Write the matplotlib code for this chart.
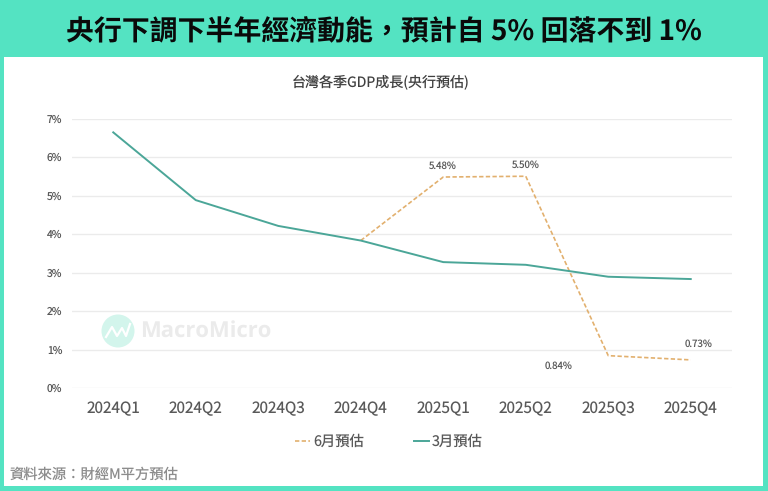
#!/usr/bin/env python3
"""Taiwan quarterly GDP growth, central bank forecasts (March vs June)."""
import matplotlib
matplotlib.use('Agg')
import matplotlib.pyplot as plt
import matplotlib.patches as mpatches
import numpy as np

plt.rcParams['font.family'] = ['Noto Sans CJK TC', 'DejaVu Sans']
plt.rcParams['text.hinting'] = 'no_hinting'
plt.rcParams['text.hinting_factor'] = 1

W, H = 768, 491

BORDER = '#54E3C2'
MAR_COLOR = '#4BA698'
JUN_COLOR = '#E2B06E'
GRID = '#EBEBEB'
TEXT = '#595959'

quarters = ['2024Q1', '2024Q2', '2024Q3', '2024Q4',
            '2025Q1', '2025Q2', '2025Q3', '2025Q4']
march_fc = [6.64, 4.88, 4.21, 3.83, 3.27, 3.20, 2.89, 2.83]
june_fc = [None, None, None, 3.83, 5.48, 5.50, 0.84, 0.73]
yticks = [0, 1, 2, 3, 4, 5, 6, 7]

# label text and nudges in points, as placed in the original
june_labels = {4: ('5.48%', 0, 4.6), 5: ('5.50%', 0, 4.6),
               6: ('0.84%', -36, -11), 7: ('0.73%', 6, 8)}

fig = plt.figure(figsize=(W / 100, H / 100), dpi=100, facecolor=BORDER)

# white panel under the header band
panel = fig.add_axes([4 / W, 1 - 486 / H, 759 / W, 429 / H])
panel.set_facecolor('white')
panel.set_xticks([])
panel.set_yticks([])
for s in panel.spines.values():
    s.set_visible(False)

fig.text(384 / W, 1 - 32 / H, '央行下調下半年經濟動能，預計自 5% 回落不到 1%',
         ha='center', va='center', fontsize=20.1, fontweight='bold', color='#0A0A0A')
fig.text(381 / W, 1 - 82 / H, '台灣各季GDP成長(央行預估)',
         ha='center', va='center', fontsize=10.1, color='#404040')
fig.text(10 / W, 1 - 475 / H, '資料來源：財經M平方預估', ha='left', va='center',
         fontsize=10.3, color='#8C8C8C', style='italic')

# watermark
logo = fig.add_axes([0, 0, 1, 1], zorder=1)
logo.set_xlim(0, W)
logo.set_ylim(H, 0)
logo.axis('off')
logo.add_patch(mpatches.Ellipse((118, 331), 33, 33, color='#D3F5EC', lw=0))
logo.plot([106, 112, 117, 122, 126, 130], [337, 327, 336, 328, 336, 324],
          color='white', lw=1.6)
logo.text(140, 331, 'MacroMicro', ha='left', va='center', fontsize=15.5,
          fontweight='bold', color='#EBEBEB', family=['Open Sans', 'DejaVu Sans'])

ax = fig.add_axes([72 / W, 1 - 388 / H, 660 / W, 269.5 / H], zorder=2)
ax.patch.set_alpha(0)
x = np.arange(len(quarters))
jun_x = [i for i, v in enumerate(june_fc) if v is not None]
jun_y = [june_fc[i] for i in jun_x]

line_jun, = ax.plot(jun_x, jun_y, color=JUN_COLOR, lw=1.2, ls=(0, (2.6, 1.4)),
                    label='6月預估', zorder=3)
line_mar, = ax.plot(x, march_fc, color=MAR_COLOR, lw=1.4, label='3月預估', zorder=3)

for i, (txt, dx, dy) in june_labels.items():
    ax.annotate(txt, (i, june_fc[i]), xytext=(dx, dy), textcoords='offset points',
                ha='center', va='bottom', fontsize=7, color=TEXT)

ax.set_xlim(-0.5, len(quarters) - 0.5)
ax.set_ylim(0, 7)
ax.set_xticks(x)
ax.set_xticklabels(quarters, fontsize=11, color=TEXT)
ax.set_yticks(yticks)
ax.set_yticklabels([f'{v}%' for v in yticks], fontsize=7.5, color=TEXT)
ax.tick_params(axis='both', length=0)
ax.tick_params(axis='x', pad=9)
ax.tick_params(axis='y', pad=7)
ax.grid(axis='y', color=GRID, lw=1)
ax.set_axisbelow(True)
for s in ax.spines.values():
    s.set_visible(False)

fig.legend(handles=[line_jun, line_mar], ncol=2, loc='center',
           bbox_to_anchor=(389 / W, 1 - 442 / H), frameon=False, fontsize=10.3,
           labelcolor=TEXT, handlelength=1.05, handletextpad=0.2, columnspacing=3.5)

fig.savefig('out.png', dpi=100, facecolor=BORDER)
